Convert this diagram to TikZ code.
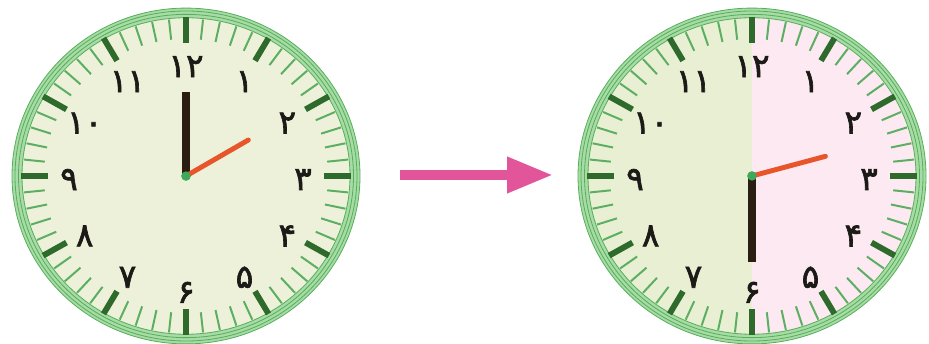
\documentclass[tikz,border=0pt]{standalone}
\usepackage{fontspec}
\usepackage{tikz}
\usetikzlibrary{arrows.meta,positioning}
\newfontfamily\digitfont[Script=Arabic,FakeBold=2]{DejaVu Sans}
\usepackage{xcolor}
\definecolor{facecream}{HTML}{EEF1DA}
\definecolor{facegreen}{HTML}{E9EFD3}
\definecolor{facepink}{HTML}{FCE9F1}
\definecolor{rimfill}{HTML}{A9DBA6}
\definecolor{rimline}{HTML}{55B05C}
\definecolor{minorgreen}{HTML}{5CAF62}
\definecolor{majorgreen}{HTML}{2D6A2B}
\definecolor{numink}{HTML}{1C1A17}
\definecolor{handink}{HTML}{2A1D12}
\definecolor{handorange}{HTML}{E8552B}
\definecolor{pivotgreen}{HTML}{3FA85A}
\definecolor{arrowpink}{HTML}{E2559B}
\tikzset{
  rimring/.style={fill=rimfill,even odd rule},
  rimcircle/.style={draw=rimline,line width=0.7pt},
  minortick/.style={draw=minorgreen,line width=1.7pt},
  majortick/.style={draw=majorgreen,line width=5pt},
  hourlabel/.style={text=numink,inner sep=0pt,yshift=-3pt,
                    font=\digitfont\fontsize{28}{28}\selectfont},
  minutehand/.style={draw=handink,line width=6.6pt},
  hourhand/.style={draw=handorange,line width=4.2pt,line cap=round},
  pivot/.style={circle,fill=pivotgreen,inner sep=0pt,minimum size=8pt},
  pinkarrow/.style={-{Triangle[length=1.38cm,width=1.02cm]},
                    line width=0.3cm,draw=arrowpink},
  pics/clockdial/.style={code={
    \fill[rimring] (0,0) circle (174) (0,0) circle (164);
    \foreach \r in {174,171,167.5,164}
      \draw[rimcircle] (0,0) circle (\r);
    \foreach \m in {0,...,59}
      \draw[minortick] (\m*6:142) -- (\m*6:163);
    \foreach \h in {0,...,11}
      \draw[majortick] (\h*30:138) -- (\h*30:165);
    \foreach \n [count=\k] in {۱,۲,۳,۴,۵,۶,۷,۸,۹,۱۰,۱۱,۱۲}
      \node[hourlabel] (-h\k) at (90-\k*30:117) {\n};
  }}
}

\begin{document}
\begin{tikzpicture}[x=0.03cm,y=0.03cm]
  \useasboundingbox (0,0) rectangle (929,344);
  \coordinate (leftclock) at (186,168);
  \coordinate (rightclock) at (752,168);

  % clock before: two o'clock
  \fill[facecream,yscale=0.965] (leftclock) circle (166);
  \pic[yscale=0.965] (before) at (leftclock) {clockdial};
  \node[pivot] (leftpivot) at (leftclock) {};
  \draw[minutehand] (leftpivot.center) -- ++(90:84) coordinate (leftminute);
  \draw[hourhand] (leftpivot.center) -- ++(30:72) coordinate (lefthour);
  \node[pivot] at (leftpivot) {};

  % clock after: half past two
  \begin{scope}[shift={(rightclock)},yscale=0.965]
    \fill[facegreen] (90:166) arc (90:270:166) -- cycle;
    \fill[facepink] (-90:166) arc (-90:90:166) -- cycle;
  \end{scope}
  \pic[yscale=0.965] (after) at (rightclock) {clockdial};
  \node[pivot] (rightpivot) at (rightclock) {};
  \draw[minutehand] (rightpivot.center) -- ++(270:86) coordinate (rightminute);
  \draw[hourhand] (rightpivot.center) -- ++(15:76) coordinate (righthour);
  \node[pivot] at (rightpivot) {};

  % arrow between the clocks
  \path (leftclock) ++(214,1) coordinate (arrowtail);
  \path (rightclock) ++(-199,1) coordinate (arrowtip);
  \draw[pinkarrow] (arrowtail) -- (arrowtip);
\end{tikzpicture}
\end{document}
